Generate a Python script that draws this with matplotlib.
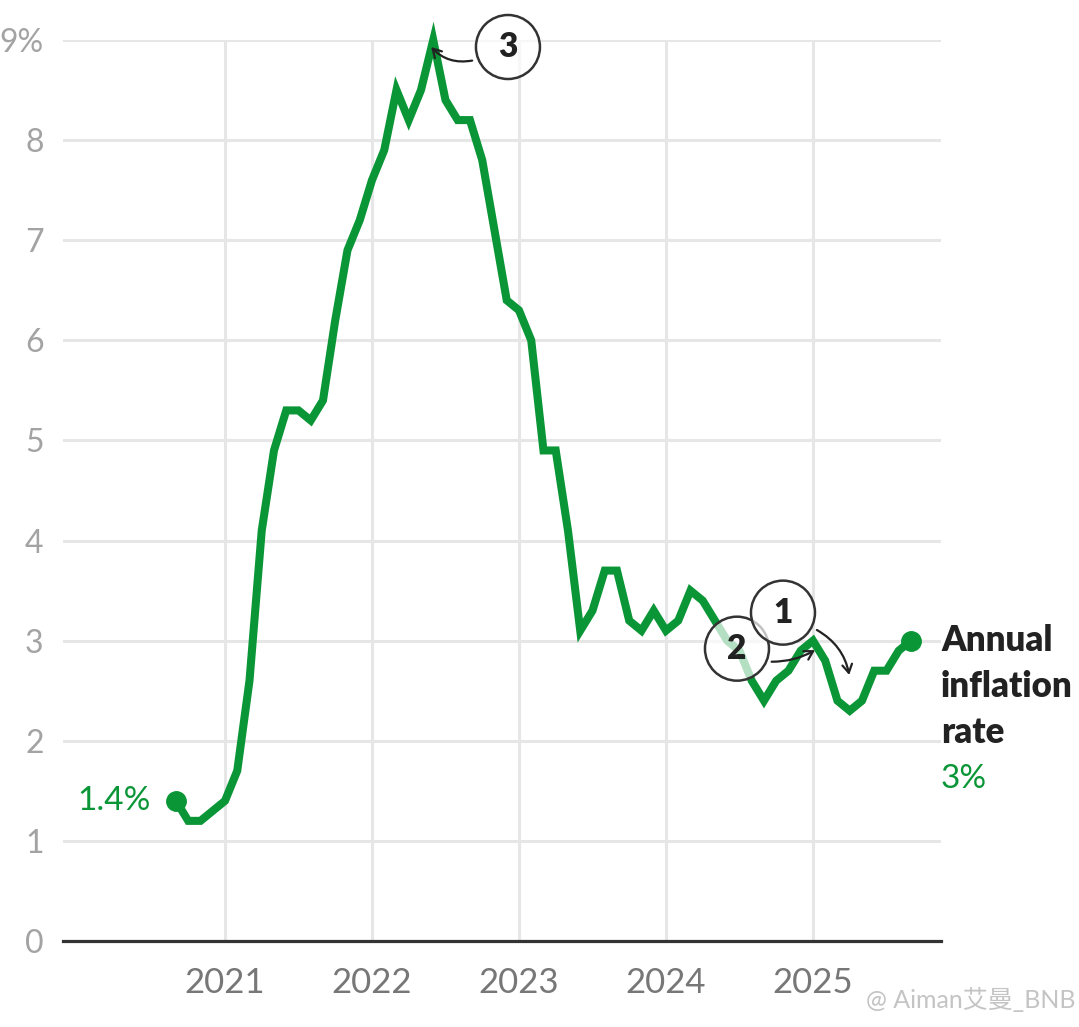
import numpy as np
import matplotlib.pyplot as plt
from matplotlib.patches import Ellipse

plt.rcParams["font.family"] = ["Lato", "Noto Sans CJK SC", "DejaVu Sans"]

# monthly annual inflation rate, Sep 2020 .. Sep 2025
start_year, start_month = 2020, 9
rate = [1.4, 1.2, 1.2, 1.3,
        1.4, 1.7, 2.6, 4.1, 4.9, 5.3, 5.3, 5.2, 5.4, 6.2, 6.9, 7.2,
        7.6, 7.9, 8.5, 8.2, 8.5, 9.0, 8.4, 8.2, 8.2, 7.8, 7.1, 6.4,
        6.3, 6.0, 4.9, 4.9, 4.1, 3.1, 3.3, 3.7, 3.7, 3.2, 3.1, 3.3,
        3.1, 3.2, 3.5, 3.4, 3.2, 3.0, 2.9, 2.6, 2.4, 2.6, 2.7, 2.9,
        3.0, 2.8, 2.4, 2.3, 2.4, 2.7, 2.7, 2.9, 3.0]
years = [2021, 2022, 2023, 2024, 2025]
yticks = list(range(10))
ytick_labels = [str(v) for v in yticks[:-1]] + ["9%"]

GREEN = "#0a9636"
GRID = "#e6e6e6"
INK = "#222222"

t = start_year + (start_month - 1) / 12 + np.arange(len(rate)) / 12
rate = np.array(rate)

fig = plt.figure(figsize=(10.79, 10.27), dpi=100)
ax = fig.add_axes([63 / 1079, 1 - 941 / 1027, (941 - 63) / 1079, (941 - 40) / 1027])
ax.set_xlim(2019.898, 2025.871)
ax.set_ylim(0, 9)

for v in yticks[1:]:
    ax.axhline(v, color=GRID, lw=2.2, zorder=0)
for yr in years:
    ax.axvline(yr, color=GRID, lw=2.2, zorder=0)

for s in ["top", "right", "left"]:
    ax.spines[s].set_visible(False)
ax.spines["bottom"].set_color("#333333")
ax.spines["bottom"].set_linewidth(2.3)

ax.set_yticks(yticks, ytick_labels)
ax.set_xticks(years, [str(y) for y in years])
ax.tick_params(axis="y", length=0, pad=14, labelsize=23, labelcolor="#a3a3a3")
ax.tick_params(axis="x", length=0, pad=19, labelsize=25, labelcolor="#777777")

ax.plot(t, rate, color=GREEN, lw=5.8, solid_joinstyle="miter", zorder=3, clip_on=False)
ax.plot([t[0], t[-1]], [rate[0], rate[-1]], "o", color=GREEN, ms=14, zorder=4, clip_on=False)

ax.text(t[0] - 0.17, rate[0], f"{rate[0]:g}%", color=GREEN, fontsize=24,
        ha="right", va="center")
for i, line in enumerate(["Annual", "inflation", "rate"]):
    ax.text(1.0, 3.0 - i * 0.46, line, transform=ax.get_yaxis_transform(),
            color=INK, fontsize=25, fontweight="heavy", ha="left", va="center", clip_on=False)
ax.text(1.0, 1.62, f"{rate[-1]:g}%", transform=ax.get_yaxis_transform(),
        color=GREEN, fontsize=24, ha="left", va="center", clip_on=False)

# numbered callouts
rx, ry = 32 / 147, 32 / 100.1
def callout(cx, cy, label, z):
    ax.add_patch(Ellipse((cx, cy), 2 * rx, 2 * ry, facecolor=(1, 1, 1, 0.7),
                         edgecolor="#333333", lw=1.8, zorder=z, clip_on=False))
    ax.text(cx, cy, label, fontsize=24, fontweight="heavy", color=INK,
            ha="center", va="center", zorder=z + 0.1, clip_on=False)

arrow = dict(arrowstyle="->,head_length=0.6,head_width=0.35", color=INK, lw=1.6)
ax.annotate("", xy=(2022.39, 8.95), xytext=(2022.70, 8.80),
            arrowprops=dict(arrow, connectionstyle="arc3,rad=-0.3"), zorder=6, annotation_clip=False)
ax.annotate("", xy=(2025.03, 2.92), xytext=(2024.70, 2.79),
            arrowprops=dict(arrow, connectionstyle="arc3,rad=0.15"), zorder=6)
ax.annotate("", xy=(2025.25, 2.63), xytext=(2025.01, 3.12),
            arrowprops=dict(arrow, connectionstyle="arc3,rad=-0.25"), zorder=6)

callout(2022.925, 8.93, "3", 5)
callout(2024.483, 2.92, "2", 5)
callout(2024.796, 3.28, "1", 5.5)

fig.text(1075 / 1079, 1 - 1000 / 1027, "@ Aiman艾曼_BNB", color="#c4c4c4",
         fontsize=18, ha="right", va="center")

fig.savefig("out.png", dpi=100)
